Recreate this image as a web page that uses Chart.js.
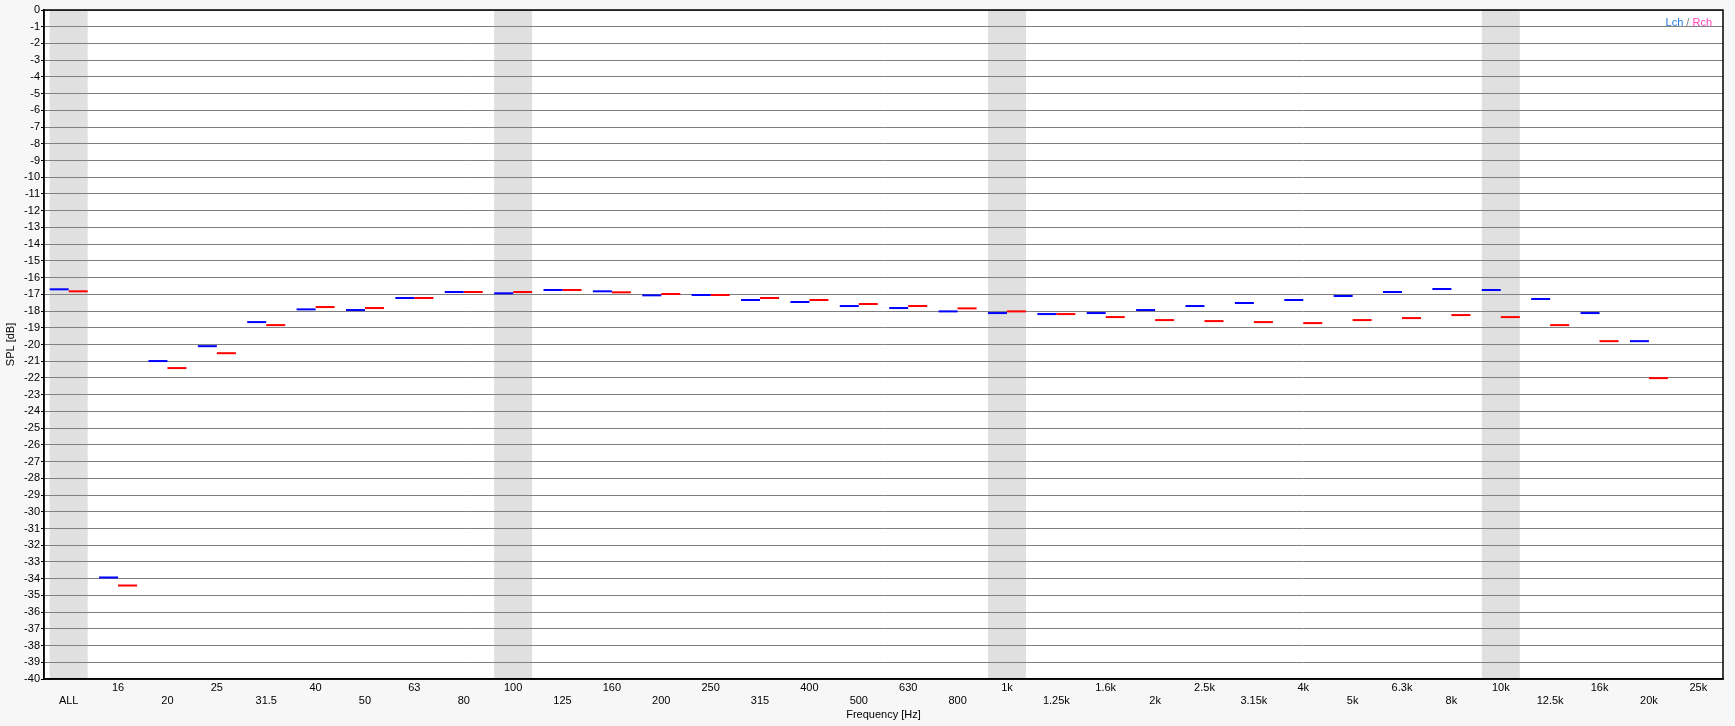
<!DOCTYPE html>
<html>
<head>
<meta charset="utf-8">
<script src="https://cdn.jsdelivr.net/npm/chart.js@4/dist/chart.umd.min.js"></script>
<style>
  html, body { margin: 0; padding: 0; background: #f7f7f7; }
  #wrap { width: 1735px; height: 726px; }
</style>
</head>
<body>
<div id="wrap"><canvas id="myChart" width="1735" height="726"></canvas></div>
<script>
// bandas de tercio de octava
const bandas = ['ALL', '16', '20', '25', '31.5', '40', '50', '63', '80', '100', '125', '160', '200', '250', '315', '400', '500', '630', '800',
    '1k', '1.25k', '1.6k', '2k', '2.5k', '3.15k', '4k', '5k', '6.3k', '8k', '10k', '12.5k', '16k', '20k', '25k'];

// nivel SPL [dB] canal izquierdo y derecho
const lch = [-16.70, -33.93, -20.99, -20.10, -18.66, -17.90, -17.94, -17.22, -16.86, -16.94, -16.74, -16.82, -17.06, -17.04, -17.34, -17.46, -17.70, -17.82, -18.02,
    -18.12, -18.18, -18.12, -17.94, -17.70, -17.52, -17.34, -17.10, -16.86, -16.68, -16.74, -17.28, -18.12, -19.80, null];
const rch = [-16.82, -34.41, -21.41, -20.52, -18.84, -17.76, -17.82, -17.22, -16.86, -16.86, -16.74, -16.88, -16.98, -17.04, -17.22, -17.34, -17.58, -17.70, -17.84,
    -18.02, -18.18, -18.36, -18.54, -18.60, -18.66, -18.72, -18.54, -18.42, -18.24, -18.36, -18.84, -19.80, -22.01, null];

// bandas sombreadas
const sombreadas = ['ALL', '100', '1k', '10k'];

const yTicks = { min: -40, max: 0, step: 1 };
const grosor = 0.06; // medio grosor de la marca en dB

function marcas(valores) {
    return valores.map(v => v === null ? null : [v - grosor, v + grosor]);
}

function dosFilas(label, index) {
    return index % 2 === 0 ? ['', label] : [label, ''];
}

const fondoPlugin = {
    id: 'fondo',
    beforeDraw(chart) {
        const { ctx, chartArea, scales } = chart;
        ctx.save();
        ctx.fillStyle = '#ffffff';
        ctx.fillRect(chartArea.left, chartArea.top, chartArea.right - chartArea.left, chartArea.bottom - chartArea.top);
        const x = scales.x;
        const ancho = (x.getPixelForValue(1) - x.getPixelForValue(0)) * 0.77;
        ctx.fillStyle = '#e0e0e0';
        sombreadas.forEach(b => {
            const cx = x.getPixelForValue(bandas.indexOf(b));
            ctx.fillRect(cx - ancho / 2, chartArea.top, ancho, chartArea.bottom - chartArea.top);
        });
        ctx.restore();
    },
    afterDraw(chart) {
        const { ctx, chartArea } = chart;
        ctx.save();
        ctx.strokeStyle = '#000000';
        ctx.lineWidth = 1.5;
        ctx.strokeRect(chartArea.left, chartArea.top, chartArea.right - chartArea.left, chartArea.bottom - chartArea.top);
        // leyenda Lch / Rch
        ctx.font = '11px "Liberation Sans", Arial, sans-serif';
        ctx.textBaseline = 'middle';
        ctx.textAlign = 'right';
        let xr = chartArea.right - 11;
        const y = chartArea.top + 13;
        const partes = [['Rch', '#ff40c0'], [' / ', '#808080'], ['Lch', '#1e7fe6']];
        partes.forEach(([t, c]) => {
            ctx.fillStyle = c;
            ctx.fillText(t, xr, y);
            xr -= ctx.measureText(t).width;
        });
        ctx.restore();
    }
};

const ctx = document.getElementById('myChart').getContext('2d');
const myChart = new Chart(ctx, {
    type: 'bar',
    data: {
        labels: bandas,
        datasets: [
            { label: 'Lch', data: marcas(lch), backgroundColor: '#0000ff', borderWidth: 0, borderSkipped: false },
            { label: 'Rch', data: marcas(rch), backgroundColor: '#ff0000', borderWidth: 0, borderSkipped: false }
        ]
    },
    options: {
        responsive: false,
        devicePixelRatio: 1,
        animation: false,
        categoryPercentage: 0.77,
        barPercentage: 1.0,
        layout: { padding: { left: 0, top: 10, right: 12, bottom: 0 } },
        plugins: {
            legend: { display: false },
            tooltip: { enabled: false }
        },
        scales: {
            x: {
                grid: { display: false, drawTicks: false },
                border: { color: '#000000', width: 1.5 },
                ticks: {
                    autoSkip: false,
                    maxRotation: 0,
                    minRotation: 0,
                    padding: 2,
                    color: '#000000',
                    font: { family: '"Liberation Sans", Arial, sans-serif', size: 11, lineHeight: 1.2 },
                    callback: function(value, index) { return dosFilas(bandas[index], index); }
                },
                title: {
                    display: true,
                    text: 'Frequency [Hz]',
                    color: '#000000',
                    font: { family: '"Liberation Sans", Arial, sans-serif', size: 11 },
                    padding: { top: 0, bottom: 4 }
                },
                afterFit(scale) { scale.height = 47; }
            },
            y: {
                min: yTicks.min,
                max: yTicks.max,
                grid: { color: '#808080', lineWidth: 1, tickLength: 3, tickColor: '#000000' },
                border: { color: '#000000', width: 1.5 },
                ticks: {
                    stepSize: yTicks.step,
                    autoSkip: false,
                    padding: 1,
                    color: '#000000',
                    font: { family: '"Liberation Sans", Arial, sans-serif', size: 11 }
                },
                title: {
                    display: true,
                    text: 'SPL [dB]',
                    color: '#000000',
                    font: { family: '"Liberation Sans", Arial, sans-serif', size: 11 },
                    padding: { top: 4, bottom: 0 }
                },
                afterFit(scale) { scale.width = 44; }
            }
        }
    },
    plugins: [fondoPlugin]
});
</script>
</body>
</html>
